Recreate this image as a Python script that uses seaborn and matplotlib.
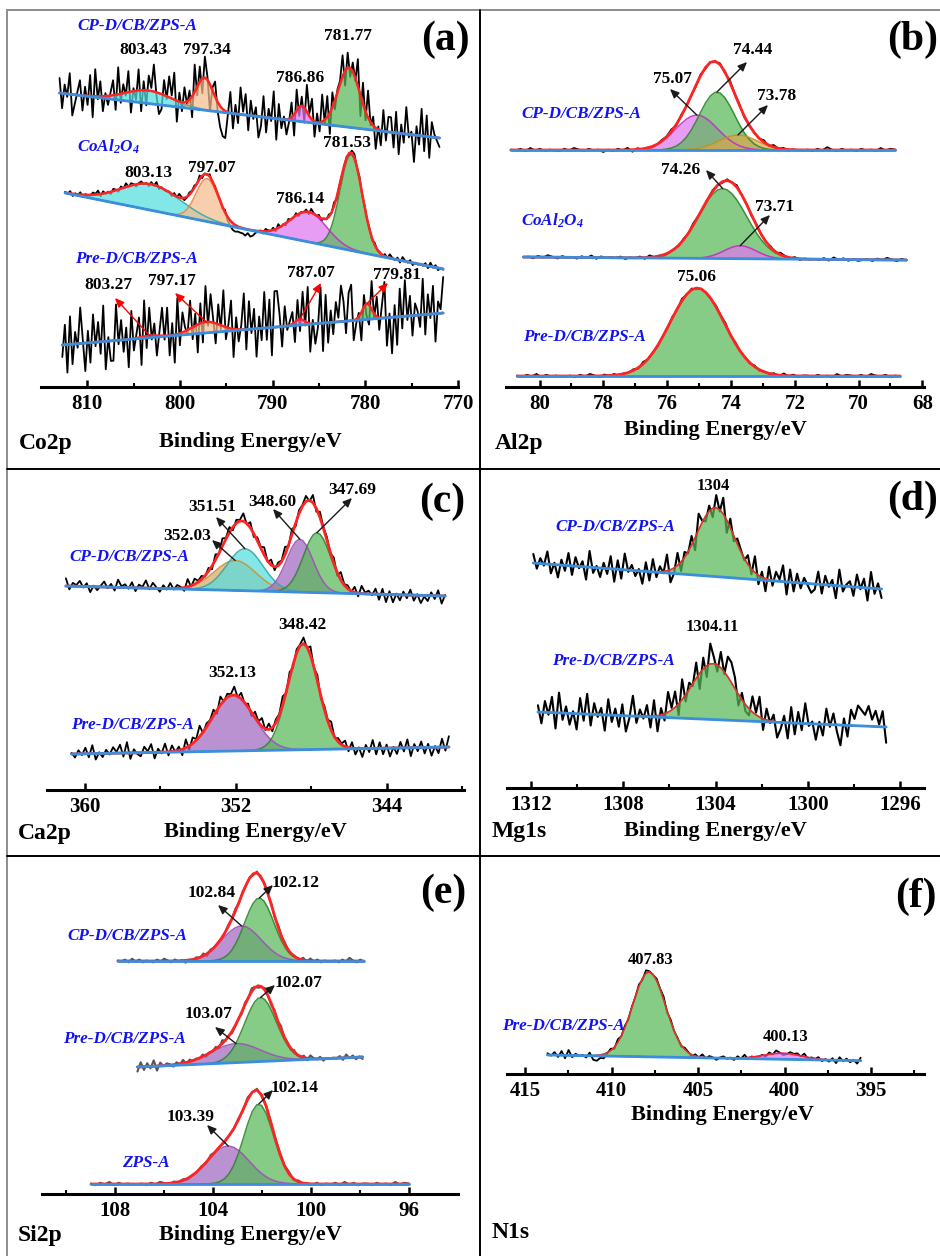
import numpy as np
import matplotlib
matplotlib.use("Agg")
import matplotlib.pyplot as plt
from matplotlib.lines import Line2D
import seaborn as sns

sns.set_theme(style="white")
plt.rcParams["font.family"] = ["Liberation Serif", "DejaVu Serif"]
plt.rcParams["text.color"] = "black"
plt.rcParams["xtick.color"] = "black"
plt.rcParams["mathtext.fontset"] = "custom"
for _k in ("rm", "it", "bf"):
    plt.rcParams["mathtext." + _k] = "Liberation Serif:italic:bold"

W, H = 940, 1256

# ---------------------------------------------------------------- Co 2p
CO_SAMPLES = ["CP-D/CB/ZPS-A", "CoAl$_2$O$_4$", "Pre-D/CB/ZPS-A"]
CO_SPAN = [(813.0, 772.0), (812.4, 771.6), (812.7, 771.6)]
CO_BACKGROUND = [(294, 249), (194, 118), (42, 74)]
CO_CENTERS = [[803.43, 797.34, 786.86, 781.77],
              [803.13, 797.07, 786.14, 781.53],
              [803.27, 797.17, 787.07, 779.81]]
CO_HEIGHTS = [[13, 32, 16, 60], [26, 43, 30, 96], [2, 11, 6, 16]]
CO_SIGMAS = [[2.5, 0.9, 0.6, 1.15], [3.2, 1.2, 2.0, 1.2], [1.0, 1.5, 0.5, 0.5]]
CO_RESIDUALS = [
    "7264813572 6381947253 5729364815 3816275941 2748591637 4619372850 5731004826 3958274613 "
    "8264917352 4718362958 2639481735 5827364918 3946152837 7281639450 6392817543",
    "5463546354 4657364536 5364746535 6453647354 4536475346 5647354635 4536210011 1020134536 "
    "5463745364 4635463754 6354647354 4536746354 5364536475 4637546354 5463746354",
    "3718264951 6284739152 2947361835 7193846258 4826193754 8361729485 2749358163 5928471639 "
    "3819962745 6273849152 4918263759 7389245163 2847369150 6183947265 3927481659",
]
CO_RESID_SCALE = [6.0, 1.5, 8.0]
CO_TICKS = [810, 800, 790, 780, 770]

# ---------------------------------------------------------------- Al 2p
AL_SAMPLES = ["CP-D/CB/ZPS-A", "CoAl$_2$O$_4$", "Pre-D/CB/ZPS-A"]
AL_SPAN = [(80.9, 68.85), (80.5, 68.5), (80.7, 68.7)]
AL_BACKGROUND = [(237, 237), (130, 127), (11, 11)]
AL_CENTERS = [[75.07, 74.44, 73.78], [74.26, 73.71], [75.06]]
AL_HEIGHTS = [[35, 58, 15], [70, 13], [88]]
AL_SIGMAS = [[0.65, 0.55, 0.6], [0.75, 0.5], [0.85]]
AL_RESIDUALS = [
    "5463746354 3647536452 5364726453 4657364536 3546375635 5473746354 4536485364 5364537465",
    "4536475364 5364736454 6354637453 4536475346 5364745364 4637546354 5463746353 4536475364",
    "5364736454 4536475364 6354637453 5463746354 4657364536 3546374635 5364537465 4637546354",
]
AL_RESID_SCALE = [0.8, 0.8, 0.8]
AL_TICKS = [80, 78, 76, 74, 72, 70, 68]

# ---------------------------------------------------------------- Ca 2p
CA_SAMPLES = ["CP-D/CB/ZPS-A", "Pre-D/CB/ZPS-A"]
CA_SPAN = [(361.0, 340.9), (360.7, 340.7)]
CA_BACKGROUND = [(204, 194), (36, 43)]
CA_CENTERS = [[352.03, 351.51, 348.60, 347.69], [352.13, 348.42]]
CA_HEIGHTS = [[30, 42, 53, 60], [56, 106]]
CA_SIGMAS = [[1.1, 0.95, 0.7, 0.72], [1.1, 0.8]]
CA_RESIDUALS = [
    "8365746253 5746385647 3658475364 7465384756 4637485736 5847365847 3658473657 4837564738 "
    "5647385647 2716152637 2514263715",
    "5364738253 6475839264 3758264837 4628375946 5738465847 4637584736 5847365748 4736584657 "
    "3725163827 2615273816 3726152839",
]
CA_RESID_SCALE = [2.2, 2.4]
CA_TICKS = [360, 352, 344]

# ---------------------------------------------------------------- Mg 1s
MG_SAMPLES = ["CP-D/CB/ZPS-A", "Pre-D/CB/ZPS-A"]
MG_SPAN = [(1311.9, 1296.8), (1311.7, 1296.6)]
MG_BACKGROUND = [(225, 199), (76, 61)]
MG_CENTERS = [[1304.0], [1304.11]]
MG_HEIGHTS = [[69], [56]]
MG_SIGMAS = [[0.8], [0.9]]
MG_RESIDUALS = [
    "7364825163 8274619352 6381729463 5172836491 3826471953 6284917365 4739261837 5918273642 "
    "3827461935 6284719362",
    "6274819362 5183927461 8362714936 4728163958 2936481729 6384997263 3859274613 6182739451 "
    "5284730628 6987968581",
]
MG_RESID_SCALE = [3.6, 4.5]
MG_TICKS = [1312, 1308, 1304, 1300, 1296]

# ---------------------------------------------------------------- Si 2p
SI_SAMPLES = ["CP-D/CB/ZPS-A", "Pre-D/CB/ZPS-A", "ZPS-A"]
SI_SPAN = [(107.9, 97.85), (107.1, 97.9), (109.0, 96.0)]
SI_BACKGROUND = [(233, 233), (127, 137), (10, 10)]
SI_CENTERS = [[102.84, 102.12], [103.07, 102.07], [103.39, 102.14]]
SI_HEIGHTS = [[35, 63], [19, 64], [38, 80]]
SI_SIGMAS = [[0.8, 0.6], [1.0, 0.65], [0.85, 0.6]]
SI_RESIDUALS = [
    "5463746354 3647536452 5364726453 4657364536 3546375635 5473746354 4536485364",
    "1827391746 5364736454 6354637453 4536475346 5364745364 4637546354 5463746353",
    "5364736454 4536475364 6354637453 5463746354 4657364536 3546374635 5364537465",
]
SI_RESID_SCALE = [0.9, 1.3, 0.8]
SI_TICKS = [108, 104, 100, 96]

# ---------------------------------------------------------------- N 1s
N_SAMPLES = ["Pre-D/CB/ZPS-A"]
N_SPAN = [(413.7, 395.6)]
N_BACKGROUND = [(19, 13.3)]
N_CENTERS = [[407.83, 400.13]]
N_HEIGHTS = [[85, 6]]
N_SIGMAS = [[0.95, 1.1]]
N_RESIDUALS = [
    "6473829364 5371021463 7463546375 4657364536 5364746535 6453647354 4536475346 5647354635 "
    "3627463527",
]
N_RESID_SCALE = [1.2]
N_TICKS = [415, 410, 405, 400, 395]

# ---------------------------------------------------------------- styling
PALETTE = {
    "cyan": ("#55dede", "#36a8a8"),
    "peach": ("#f6bd8e", "#f0843f"),
    "magenta": ("#de78f0", "#c42cc4"),
    "green": ("#58b858", "#2e862e"),
    "purple": ("#a068c0", "#a050b8"),
    "olive": ("#d6a850", "#c8921a"),
    "tan": ("#d6aa66", "#c89238"),
}
RED = "#ff2424"
BLUE = "#3a8edc"
SERIES_BLUE = "#1212f2"


def residual(code):
    return np.array([int(ch) for ch in code.replace(" ", "")], dtype=float) - 4.5


def background(e, span, ends):
    t = (e - span[0]) / (span[1] - span[0])
    return ends[0] + (ends[1] - ends[0]) * t


def component(e, c, h, s):
    return h * np.exp(-0.5 * ((e - c) / s) ** 2)


def fmt(v):
    return str(int(v)) if float(v).is_integer() else f"{v:.2f}"


def fig_xy(px, py):
    return px / W, 1 - py / H


fig = plt.figure(figsize=(W / 100, H / 100), dpi=100)

# panel frame
for xs, ys, col in [((7, 940), (10, 10), "#8c8c8c"), ((7, 7), (10, 1256), "#8c8c8c"),
                    ((480, 480), (10, 1256), "black"), ((7, 940), (469, 469), "black"),
                    ((7, 940), (856, 856), "black")]:
    fig.add_artist(Line2D([x / W for x in xs], [1 - y / H for y in ys], color=col, lw=1.4))

PANELS = [
    dict(data=(CO_SAMPLES, CO_SPAN, CO_BACKGROUND, CO_CENTERS, CO_HEIGHTS, CO_SIGMAS,
               CO_RESIDUALS, CO_RESID_SCALE),
         ticks=CO_TICKS, minor=[805, 795, 785, 775], box=(41, 458, 387, 12), xlim=(815, 770),
         colors=[["cyan", "peach", "magenta", "green"]] * 3,
         trace="black", trace_lw=1.3, env_lw=1.8,
         series=[(137, 26), (108, 147), (136, 259)],
         letter="(a)", letter_pos=(445, 40), element="Co2p", element_pos=(19, 443),
         xlabel_pos=(250, 442), label_size=12.5,
         peaks=[(0, 0, (143, 50), None, "k"), (0, 1, (207, 50), None, "k"),
                (0, 2, (300, 78), None, "k"), (0, 3, (348, 36), None, "k"),
                (1, 0, (148, 173), None, "k"), (1, 1, (212, 168), None, "k"),
                (1, 2, (300, 199), None, "k"), (1, 3, (347, 143), None, "k"),
                (2, 0, (108, 285), (115, 298), "red"), (2, 1, (172, 281), (175, 293), "red"),
                (2, 2, (311, 273), (321, 283), "red"), (2, 3, (397, 275), (388, 283), "red")]),
    dict(data=(AL_SAMPLES, AL_SPAN, AL_BACKGROUND, AL_CENTERS, AL_HEIGHTS, AL_SIGMAS,
               AL_RESIDUALS, AL_RESID_SCALE),
         ticks=AL_TICKS, minor=[79, 77, 75, 73, 71, 69], box=(506, 924, 387, 12),
         xlim=(81.05, 67.95),
         colors=[["magenta", "green", "olive"], ["green", "magenta"], ["green"]],
         trace="black", trace_lw=1.3, env_lw=2.0,
         series=[(581, 114), (552, 221), (584, 337)],
         letter="(b)", letter_pos=(913, 40), element="Al2p", element_pos=(495, 443),
         xlabel_pos=(715, 430), label_size=12.5,
         peaks=[(0, 0, (672, 79), (670, 89), "k"), (0, 1, (753, 50), (747, 62), "k"),
                (0, 2, (777, 96), (768, 105), "k"), (1, 0, (681, 170), (706, 170), "k"),
                (1, 1, (775, 207), (770, 215), "k"), (2, 0, (697, 277), None, "k")]),
    dict(data=(CA_SAMPLES, CA_SPAN, CA_BACKGROUND, CA_CENTERS, CA_HEIGHTS, CA_SIGMAS,
               CA_RESIDUALS, CA_RESID_SCALE),
         ticks=CA_TICKS, minor=[356, 348, 340], box=(47, 464, 790, 471), xlim=(362.0, 339.9),
         colors=[["tan", "cyan", "purple", "green"], ["purple", "green"]],
         trace="black", trace_lw=1.3, env_lw=2.0,
         series=[(129, 557), (132, 725)],
         letter="(c)", letter_pos=(442, 502), element="Ca2p", element_pos=(18, 833),
         xlabel_pos=(255, 832), label_size=12.5,
         peaks=[(0, 1, (212, 507), (216, 517), "k"), (0, 0, (187, 536), (212, 540), "k"),
                (0, 2, (272, 502), (273, 509), "k"), (0, 3, (352, 490), (352, 498), "k"),
                (1, 1, (302, 625), None, "k"), (1, 0, (232, 673), None, "k")]),
    dict(data=(MG_SAMPLES, MG_SPAN, MG_BACKGROUND, MG_CENTERS, MG_HEIGHTS, MG_SIGMAS,
               MG_RESIDUALS, MG_RESID_SCALE),
         ticks=MG_TICKS, minor=[1310, 1306, 1302, 1298], box=(507, 924, 788, 471),
         xlim=(1313.04, 1294.96),
         colors=[["green"], ["green"]],
         trace="black", trace_lw=1.5, env_lw=1.0,
         series=[(615, 527), (613, 661)],
         letter="(d)", letter_pos=(913, 500), element="Mg1s", element_pos=(492, 832),
         xlabel_pos=(715, 831), label_size=12,
         peaks=[(0, 0, (713, 486), None, "k"), (1, 0, (712, 627), None, "k")]),
    dict(data=(SI_SAMPLES, SI_SPAN, SI_BACKGROUND, SI_CENTERS, SI_HEIGHTS, SI_SIGMAS,
               SI_RESIDUALS, SI_RESID_SCALE),
         ticks=SI_TICKS, minor=[110, 106, 102, 98], box=(42, 458, 1194, 858), xlim=(111.0, 94.0),
         colors=[["purple", "green"]] * 3,
         trace="#555555", trace_lw=1.5, env_lw=2.0,
         series=[(127, 936), (124, 1039), (146, 1163)],
         letter="(e)", letter_pos=(443, 893), element="Si2p", element_pos=(18, 1235),
         xlabel_pos=(250, 1235), label_size=12.5,
         peaks=[(0, 0, (212, 893), (218, 905), "k"), (0, 1, (296, 883), (273, 885), "k"),
                (1, 1, (298, 983), (275, 985), "k"), (1, 0, (208, 1014), (215, 1027), "k"),
                (2, 1, (295, 1088), (273, 1090), "k"), (2, 0, (191, 1117), (207, 1125), "k")]),
    dict(data=(N_SAMPLES, N_SPAN, N_BACKGROUND, N_CENTERS, N_HEIGHTS, N_SIGMAS,
               N_RESIDUALS, N_RESID_SCALE),
         ticks=N_TICKS, minor=[412.5, 407.5, 402.5, 397.5, 392.5], box=(507, 924, 1074, 858),
         xlim=(416.04, 391.94),
         colors=[["green", "magenta"]],
         trace="black", trace_lw=1.3, env_lw=1.0,
         series=[(563, 1026)],
         letter="(f)", letter_pos=(916, 897), element="N1s", element_pos=(492, 1233),
         xlabel_pos=(722, 1115), label_size=12,
         peaks=[(0, 0, (651, 960), None, "k"), (0, 1, (786, 1037), None, "k")]),
]

for spec in PANELS:
    samples, spans, ends, centers, heights, sigmas, resid, scale = spec["data"]
    x0, x1, yb, yt = spec["box"]
    ax = fig.add_axes([x0 / W, 1 - yb / H, (x1 - x0) / W, (yb - yt) / H])
    ax.patch.set_alpha(0)

    for i in range(len(samples)):
        r = residual(resid[i])
        e = np.linspace(spans[i][0], spans[i][1], len(r))
        bg = background(e, spans[i], ends[i])
        comps = [component(e, c, h, s) for c, h, s in zip(centers[i], heights[i], sigmas[i])]
        env = bg + np.sum(comps, axis=0)
        raw = env + scale[i] * r
        sns.lineplot(x=e, y=raw, ax=ax, color=spec["trace"], lw=spec["trace_lw"],
                     sort=False, estimator=None, zorder=2)
        for comp, cname in zip(comps, spec["colors"][i]):
            fc, ec = PALETTE[cname]
            ax.fill_between(e, bg, bg + comp, color=fc, alpha=0.72, lw=0, zorder=3)
            sns.lineplot(x=e, y=bg + comp, ax=ax, color=ec, lw=1.1, alpha=0.9,
                         sort=False, estimator=None, zorder=4)
        sns.lineplot(x=e, y=env, ax=ax, color=RED, lw=spec["env_lw"],
                     sort=False, estimator=None, zorder=5)
        sns.lineplot(x=e, y=bg, ax=ax, color=BLUE, lw=2.0,
                     sort=False, estimator=None, zorder=6)

        sx, sy = fig_xy(*spec["series"][i])
        fig.text(sx, sy, samples[i], ha="center", va="center", color=SERIES_BLUE,
                 fontsize=12.3, fontweight="bold", fontstyle="italic")

    for ti, ci, pos, head, col in spec["peaks"]:
        c = centers[ti][ci]
        top = background(c, spans[ti], ends[ti]) + heights[ti][ci]
        tx, ty = fig_xy(*pos)
        fig.text(tx, ty, fmt(c), ha="center", va="center", color="black",
                 fontsize=spec["label_size"], fontweight="bold")
        if head is not None:
            ax.annotate("", xy=fig_xy(*head), xycoords="figure fraction",
                        xytext=(c, top), textcoords="data", zorder=8,
                        arrowprops=dict(arrowstyle="-|>,head_length=0.45,head_width=0.2",
                                        color=col, lw=1.0, shrinkA=0, shrinkB=0))

    ax.set_xlim(*spec["xlim"])
    ax.set_ylim(0, yb - yt)
    for side in ("left", "right", "top"):
        ax.spines[side].set_visible(False)
    ax.spines["bottom"].set_linewidth(2.2)
    ax.spines["bottom"].set_color("black")
    ax.set_yticks([])
    ax.set_xticks(spec["ticks"])
    ax.set_xticklabels([str(t) for t in spec["ticks"]], fontweight="bold", fontsize=15,
                       color="black")
    ax.set_xticks(spec["minor"], minor=True)
    ax.tick_params(axis="x", which="major", direction="in", length=5, width=1.8,
                   pad=5, color="black", labelcolor="black", bottom=True)
    ax.tick_params(axis="x", which="minor", direction="in", length=3, width=1.5,
                   color="black", bottom=True)
    ax.set_xlabel("")
    ax.set_ylabel("")
    ax.grid(False)

    lx, ly = fig_xy(*spec["xlabel_pos"])
    fig.text(lx, ly, "Binding Energy/eV", ha="center", va="center", color="black",
             fontsize=16, fontweight="bold")
    ex, ey = fig_xy(*spec["element_pos"])
    fig.text(ex, ey, spec["element"], ha="left", va="center", color="black",
             fontsize=17, fontweight="bold")
    px, py = fig_xy(*spec["letter_pos"])
    fig.text(px, py, spec["letter"], ha="center", va="center", color="black",
             fontsize=30, fontweight="bold")

fig.savefig("out.png", dpi=100, facecolor="white")
